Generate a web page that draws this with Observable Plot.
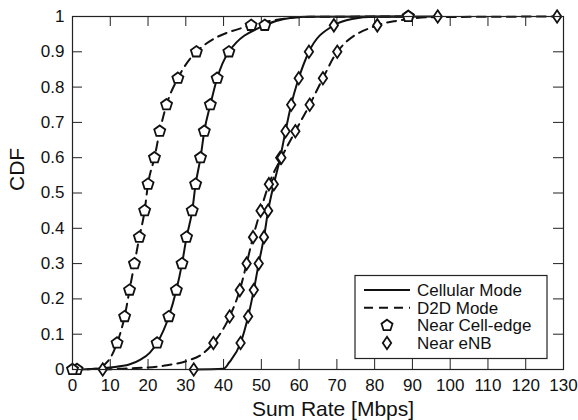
<!DOCTYPE html>
<html>
<head>
<meta charset="utf-8">
<script src="https://cdn.jsdelivr.net/npm/d3@7"></script>
<script src="https://cdn.jsdelivr.net/npm/@observablehq/plot@0.6"></script>
<style>
  html, body { margin: 0; padding: 0; background: #fff; }
  svg { display: block; }
</style>
</head>
<body>
<div id="chart"></div>
<script>
// ---- data ----
const cdfLevels = [0, 0.075, 0.15, 0.225, 0.3, 0.375, 0.45, 0.525, 0.6, 0.675, 0.75, 0.825, 0.9, 0.975, 1];

// marker x-positions (Mbps) at each CDF level
const edgeCellular = [1.2, 22.4, 25.5, 27.5, 29.0, 30.2, 31.7, 32.6, 33.9, 34.9, 36.5, 38.3, 41.4, 50.9, 88.9];
const edgeD2D      = [0, 11.8, 13.8, 15.1, 16.4, 17.7, 19.1, 20.0, 21.7, 23.1, 24.9, 27.9, 32.8, 47.3, 88.9];
const enbCellular  = [32.1, 44.5, 46.5, 48.0, 49.3, 50.7, 51.8, 53.3, 55.0, 56.4, 57.9, 59.9, 62.6, 69.2, 96.7];
const enbD2D       = [8.0, 37.3, 41.6, 44.3, 46.1, 47.8, 49.8, 52.0, 55.3, 59.0, 62.8, 66.3, 70.1, 80.7, 128.3];

// extra points of the curves between markers (tails) [x, cdf]
const edgeCellularTail = [[10, 0.006], [15, 0.014], [18, 0.028], [20.5, 0.048], [56, 0.993], [62, 0.999]];
const edgeD2DTail      = [[6, 0.002], [9.5, 0.025], [55, 0.992], [63, 0.999]];
const enbCellularTail  = [[40, 0.002], [41.5, 0.02], [74, 0.993], [80, 0.999]];
const enbD2DTail       = [[15, 0.003], [25, 0.012], [30.5, 0.025], [34.5, 0.045], [86, 0.988], [95, 0.998]];

const xTicks = [0, 10, 20, 30, 40, 50, 60, 70, 80, 90, 100, 110, 120, 130];
const yTicks = [0, 0.1, 0.2, 0.3, 0.4, 0.5, 0.6, 0.7, 0.8, 0.9, 1];

const legendLabels = ["Cellular Mode", "D2D Mode", "Near Cell-edge", "Near eNB"];

// ---- symbols ----
const pentagon = {
  draw(ctx, size) {
    const r = Math.sqrt(size / Math.PI);
    for (let i = 0; i < 5; i++) {
      const a = -Math.PI / 2 + i * 2 * Math.PI / 5;
      const px = r * Math.cos(a), py = r * Math.sin(a);
      if (i === 0) ctx.moveTo(px, py); else ctx.lineTo(px, py);
    }
    ctx.closePath();
  }
};
const diamond = {
  draw(ctx, size) {
    const r = Math.sqrt(size / Math.PI);
    ctx.moveTo(0, -r);
    ctx.lineTo(0.68 * r, 0);
    ctx.lineTo(0, r);
    ctx.lineTo(-0.68 * r, 0);
    ctx.closePath();
  }
};

const seriesDefs = [
  {key: "edgeCellular", xs: edgeCellular, tail: edgeCellularTail, dash: null, symbol: pentagon, r: 5.8},
  {key: "edgeD2D", xs: edgeD2D, tail: edgeD2DTail, dash: "9,6", symbol: pentagon, r: 5.8},
  {key: "enbCellular", xs: enbCellular, tail: enbCellularTail, dash: null, symbol: diamond, r: 6.2},
  {key: "enbD2D", xs: enbD2D, tail: enbD2DTail, dash: "9,6", symbol: diamond, r: 6.2}
];

const marks = [];
for (const s of seriesDefs) {
  const markers = s.xs.map((x, i) => ({x, y: cdfLevels[i]}));
  const curve = markers.concat(s.tail.map(([x, y]) => ({x, y}))).sort((a, b) => a.x - b.x);
  marks.push(Plot.line(curve, {
    x: "x", y: "y", curve: "monotone-x", stroke: "#111", strokeWidth: 2,
    strokeDasharray: s.dash || undefined
  }));
}
for (const s of seriesDefs) {
  const markers = s.xs.map((x, i) => ({x, y: cdfLevels[i]}));
  marks.push(Plot.dot(markers, {
    x: "x", y: "y", symbol: s.symbol, r: s.r, fill: "white", stroke: "#111", strokeWidth: 1.8
  }));
}

const W = 578, H = 420;
const mL = 72, mR = 15, mT = 16, mB = 51;
const innerW = W - mL - mR, innerH = H - mT - mB;
const tickLen = 10;

const svg = Plot.plot({
  width: W, height: H,
  marginLeft: mL, marginRight: mR, marginTop: mT, marginBottom: mB,
  style: {fontFamily: "'Liberation Sans', Arial, Helvetica, sans-serif", fontSize: "17px", color: "#111", background: "#fff"},
  x: {domain: [0, 130], ticks: xTicks},
  y: {domain: [0, 1], ticks: yTicks},
  marks: [
    Plot.axisX(xTicks, {tickSize: 0, tickPadding: 9, label: null, tickFormat: d => String(d)}),
    Plot.axisY(yTicks, {tickSize: 0, tickPadding: 8, label: null, tickFormat: d3.format("~g")}),
    Plot.tickX(xTicks, {x: d => d, insetTop: innerH - tickLen, stroke: "#222", strokeWidth: 1}),
    Plot.tickX(xTicks, {x: d => d, insetBottom: innerH - tickLen, stroke: "#222", strokeWidth: 1}),
    Plot.tickY(yTicks, {y: d => d, insetRight: innerW - tickLen, stroke: "#222", strokeWidth: 1}),
    Plot.tickY(yTicks, {y: d => d, insetLeft: innerW - tickLen, stroke: "#222", strokeWidth: 1}),
    ...marks,
    Plot.frame({stroke: "#222", strokeWidth: 1.2}),
    Plot.text(["Sum Rate [Mbps]"], {frameAnchor: "bottom", lineAnchor: "middle", dy: 40, dx: 15, text: d => d, fontSize: 21}),
    Plot.text(["CDF"], {frameAnchor: "left", lineAnchor: "middle", dx: -55, dy: -2, rotate: -90, text: d => d, fontSize: 21})
  ]
});

// ---- legend (inside the plot, lower right) ----
const lg = d3.select(svg).append("g").attr("font-size", 17).attr("text-anchor", "start");
const bx = 355, by = 275.5, bw = 192, bh = 83;
lg.append("rect").attr("x", bx).attr("y", by).attr("width", bw).attr("height", bh)
  .attr("fill", "white").attr("stroke", "#222").attr("stroke-width", 1.2);
const rowY = [290, 307.7, 325.5, 343];
const lx1 = 364, lx2 = 410, lmx = 387, tx = 417;
lg.append("line").attr("x1", lx1).attr("x2", lx2).attr("y1", rowY[0]).attr("y2", rowY[0])
  .attr("stroke", "#111").attr("stroke-width", 2);
lg.append("line").attr("x1", lx1).attr("x2", lx2).attr("y1", rowY[1]).attr("y2", rowY[1])
  .attr("stroke", "#111").attr("stroke-width", 2).attr("stroke-dasharray", "9,6");
lg.append("path").attr("d", d3.symbol(pentagon, Math.PI * 5.8 * 5.8)())
  .attr("transform", `translate(${lmx},${rowY[2]})`).attr("fill", "white").attr("stroke", "#111").attr("stroke-width", 1.8);
lg.append("path").attr("d", d3.symbol(diamond, Math.PI * 6.2 * 6.2)())
  .attr("transform", `translate(${lmx},${rowY[3]})`).attr("fill", "white").attr("stroke", "#111").attr("stroke-width", 1.8);
legendLabels.forEach((t, i) => {
  lg.append("text").attr("x", tx).attr("y", rowY[i]).attr("dy", "0.35em")
    .attr("text-anchor", "start").attr("fill", "#111").text(t);
});

document.getElementById("chart").appendChild(svg);
</script>
</body>
</html>
